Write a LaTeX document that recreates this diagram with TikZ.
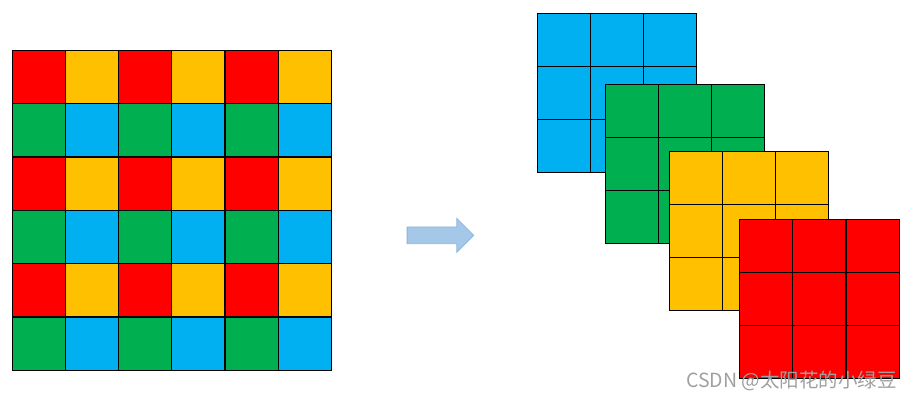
\documentclass[tikz,border=0pt]{standalone}
\usepackage{fontspec}
\newfontfamily\cjk{Noto Sans CJK SC}
\usetikzlibrary{shapes.arrows}
\definecolor{cred}{HTML}{FF0000}
\definecolor{cyel}{HTML}{FFC000}
\definecolor{cgrn}{HTML}{00B050}
\definecolor{cblu}{HTML}{00B0F0}
\definecolor{arrfill}{HTML}{A6C8E8}
\definecolor{arrdraw}{HTML}{8CB4DC}
\definecolor{wm}{HTML}{A0A0A0}
\tikzset{cell/.style={draw=black,line width=1.2pt}}
\begin{document}
\begin{tikzpicture}[x=1pt,y=-1pt]
\useasboundingbox (0,0) rectangle (913,400);
% left 6x6 grid
\foreach \r in {0,...,5}{
  \foreach \c in {0,...,5}{
    \pgfmathtruncatemacro{\rr}{mod(\r,2)}
    \pgfmathtruncatemacro{\cc}{mod(\c,2)}
    \ifnum\rr=0
      \ifnum\cc=0 \def\col{cred}\else\def\col{cyel}\fi
    \else
      \ifnum\cc=0 \def\col{cgrn}\else\def\col{cblu}\fi
    \fi
    \fill[\col] ({12.3+53.17*\c},{50.3+53.33*\r}) rectangle ++(53.17,53.33);
  }
}
\foreach \k in {1,...,5}{
  \draw[cell] ({12.3+53.17*\k},50.3) -- ++(0,320);
  \draw[cell] (12.3,{50.3+53.33*\k}) -- ++(319,0);
}
\draw[cell] (12.3,50.3) rectangle (331.3,370.3);
% arrow
\node[single arrow, draw=arrdraw, fill=arrfill, line width=0.8pt,
  minimum height=66.6pt, single arrow head extend=8.5pt,
  inner xsep=0pt, inner ysep=8pt, anchor=tail] (arr) at (406.7,235.3) {};
% stacked 3x3 grids
\foreach \x/\y/\col in {537.3/13.3/cblu, 605.3/84.3/cgrn, 669.3/151.3/cyel, 739.7/219.3/cred}{
  \fill[\col] (\x,\y) rectangle ++(159.5,159.5);
  \draw[cell] (\x,\y) rectangle ++(159.5,159.5);
  \foreach \k in {1,2}{
    \draw[cell] ({\x+53.17*\k},\y) -- ++(0,159.5);
    \draw[cell] (\x,{\y+53.17*\k}) -- ++(159.5,0);
  }
}
% watermark
\node[anchor=east, text=wm, font=\cjk\fontsize{19.5}{22}\selectfont, inner sep=0pt] (wm) at (897,381) {CSDN @太阳花的小绿豆};
\end{tikzpicture}
\end{document}
